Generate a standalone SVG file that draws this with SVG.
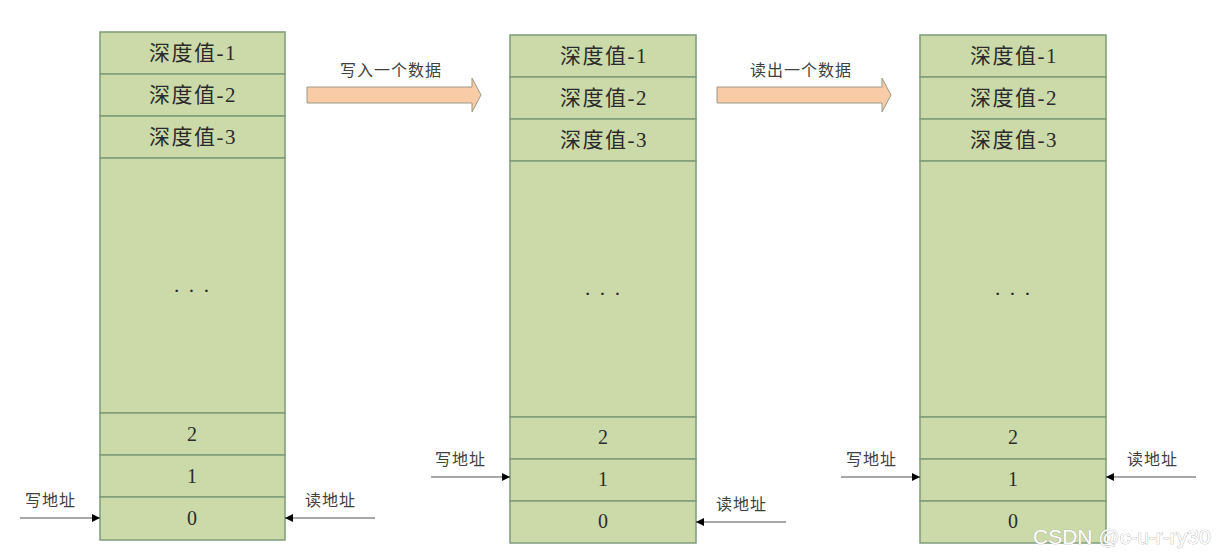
<svg xmlns="http://www.w3.org/2000/svg" width="1224" height="556" viewBox="0 0 1224 556">
<style>
.cell{fill:#CCDAAA;stroke:#7E9C78;stroke-width:1.5}
.ct{font-family:"Liberation Serif","Noto Sans CJK SC",serif;font-size:20px;fill:#2b2b2b;text-anchor:middle}
.hd{font-size:21px;letter-spacing:1.5px}
.dt{font-size:22px;letter-spacing:1px}
.lb{font-family:"Liberation Serif","Noto Sans CJK SC",serif;font-size:16px;fill:#404040;letter-spacing:1px}
.ln{stroke:#505050;stroke-width:1;fill:none}
.blk{fill:#F9CBA6;stroke:#9a9a86;stroke-width:1}
.wm{font-family:"Liberation Sans",Arial,sans-serif;font-size:21px;fill:#ffffff;stroke:#a8a8a8;stroke-width:0.7;paint-order:stroke}
</style>
<defs>
<marker id="ah" viewBox="0 0 10 10" refX="10" refY="5" markerWidth="8" markerHeight="8" markerUnits="userSpaceOnUse" orient="auto">
<path d="M0,0 L10,5 L0,10 Z" fill="#000"/>
</marker>
</defs>

<g id="fifo1">
<rect class="cell" x="100" y="32" width="185" height="42"/>
<rect class="cell" x="100" y="74" width="185" height="42"/>
<rect class="cell" x="100" y="116" width="185" height="42"/>
<rect class="cell" x="100" y="158" width="185" height="255"/>
<rect class="cell" x="100" y="413" width="185" height="42"/>
<rect class="cell" x="100" y="455" width="185" height="42"/>
<rect class="cell" x="100" y="497" width="185" height="43"/>
<text class="ct hd" x="193" y="60">深度值-1</text>
<text class="ct hd" x="193" y="102">深度值-2</text>
<text class="ct hd" x="193" y="144">深度值-3</text>
<text class="ct dt" x="192" y="298">· · ·</text>
<text class="ct" x="192" y="441">2</text>
<text class="ct" x="192" y="483">1</text>
<text class="ct" x="192" y="525">0</text>
</g>

<g id="fifo2">
<rect class="cell" x="510" y="35" width="186" height="42"/>
<rect class="cell" x="510" y="77" width="186" height="42"/>
<rect class="cell" x="510" y="119" width="186" height="42"/>
<rect class="cell" x="510" y="161" width="186" height="256"/>
<rect class="cell" x="510" y="417" width="186" height="42"/>
<rect class="cell" x="510" y="459" width="186" height="42"/>
<rect class="cell" x="510" y="501" width="186" height="42"/>
<text class="ct hd" x="604" y="63">深度值-1</text>
<text class="ct hd" x="604" y="105">深度值-2</text>
<text class="ct hd" x="604" y="147">深度值-3</text>
<text class="ct dt" x="603" y="301">· · ·</text>
<text class="ct" x="603" y="444">2</text>
<text class="ct" x="603" y="486">1</text>
<text class="ct" x="603" y="528">0</text>
</g>

<g id="fifo3">
<rect class="cell" x="920" y="35" width="186" height="42"/>
<rect class="cell" x="920" y="77" width="186" height="42"/>
<rect class="cell" x="920" y="119" width="186" height="42"/>
<rect class="cell" x="920" y="161" width="186" height="256"/>
<rect class="cell" x="920" y="417" width="186" height="42"/>
<rect class="cell" x="920" y="459" width="186" height="42"/>
<rect class="cell" x="920" y="501" width="186" height="42"/>
<text class="ct hd" x="1014" y="63">深度值-1</text>
<text class="ct hd" x="1014" y="105">深度值-2</text>
<text class="ct hd" x="1014" y="147">深度值-3</text>
<text class="ct dt" x="1013" y="301">· · ·</text>
<text class="ct" x="1013" y="444">2</text>
<text class="ct" x="1013" y="486">1</text>
<text class="ct" x="1013" y="528">0</text>
</g>

<g id="step-write">
<path class="blk" d="M307,87 L472,87 L472,78 L481,95 L472,112 L472,103 L307,103 Z"/>
<text class="lb" x="391" y="76" text-anchor="middle">写入一个数据</text>
</g>
<g id="step-read">
<path class="blk" d="M717,87 L882,87 L882,78 L891,95 L882,112 L882,103 L717,103 Z"/>
<text class="lb" x="801" y="76" text-anchor="middle">读出一个数据</text>
</g>

<g id="connectors">
<line class="ln" x1="20" y1="518" x2="100" y2="518" marker-end="url(#ah)"/>
<line class="ln" x1="375" y1="518" x2="285" y2="518" marker-end="url(#ah)"/>
<line class="ln" x1="431" y1="477" x2="510" y2="477" marker-end="url(#ah)"/>
<line class="ln" x1="786" y1="522" x2="696" y2="522" marker-end="url(#ah)"/>
<line class="ln" x1="841" y1="477" x2="920" y2="477" marker-end="url(#ah)"/>
<line class="ln" x1="1196" y1="477" x2="1106" y2="477" marker-end="url(#ah)"/>
</g>

<g id="labels">
<text class="lb" x="25" y="506">写地址</text>
<text class="lb" x="305" y="506">读地址</text>
<text class="lb" x="435" y="465">写地址</text>
<text class="lb" x="716" y="510">读地址</text>
<text class="lb" x="846" y="465">写地址</text>
<text class="lb" x="1127" y="465">读地址</text>
</g>

<text class="wm" x="1033" y="544">CSDN @c-u-r-ry30</text>
</svg>
